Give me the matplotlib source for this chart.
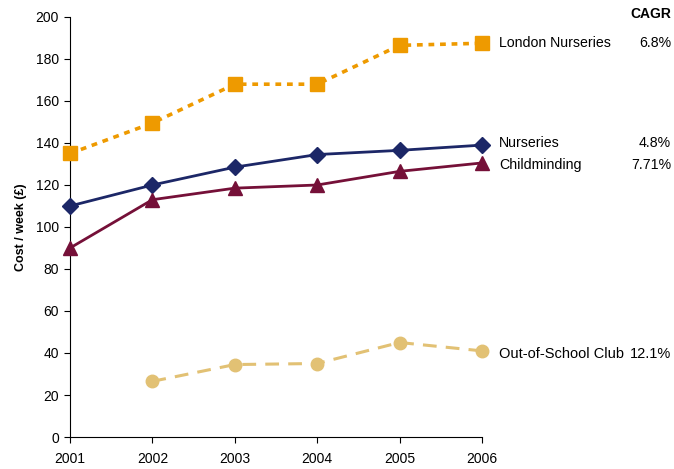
import matplotlib.pyplot as plt
import matplotlib.transforms as mtransforms

plt.rcParams['font.family'] = ['Liberation Sans', 'DejaVu Sans']

years = [2001, 2002, 2003, 2004, 2005, 2006]
london = [135, 149.5, 168, 168, 186.5, 187.5]
nurseries = [110, 120, 128.5, 134.5, 136.5, 139]
childminding = [90, 113, 118.5, 120, 126.5, 130.5]
club_years = [2002, 2003, 2004, 2005, 2006]
club = [26.5, 34.5, 35, 45, 41]

names = ['London Nurseries', 'Nurseries', 'Childminding', 'Out-of-School Club']
cagr = ['6.8%', '4.8%', '7.71%', '12.1%']
label_y = [187.5, 140, 129.5, 39.5]
label_size = [10.2, 10.2, 10.2, 10.5]

fig = plt.figure(figsize=(6.74, 4.69), dpi=100)
ax = fig.add_axes([70 / 674, 32 / 469, 412 / 674, 420 / 469])

ax.plot(years, london, color='#EE9A00', lw=2.6, ls=(0, (1.6, 1.6)),
        marker='s', ms=10, mec='#EE9A00', zorder=3, clip_on=False)
ax.plot(years, nurseries, color='#1C2767', lw=2.0,
        marker='D', ms=8, zorder=3, clip_on=False)
ax.plot(years, childminding, color='#751038', lw=2.0,
        marker='^', ms=10, zorder=3, clip_on=False)
ax.plot(club_years, club, color='#E2C174', lw=2.2, ls=(0, (4.5, 3)),
        marker='o', ms=9, zorder=3, clip_on=False)

ax.set_xlim(2001, 2006)
ax.set_ylim(0, 200)
ax.set_xticks(years)
ax.set_yticks(range(0, 201, 20))
ax.tick_params(axis='x', direction='out', length=4.5, pad=6, labelsize=10)
ax.tick_params(axis='y', direction='out', length=4, pad=4, labelsize=10)
for s in ['top', 'right']:
    ax.spines[s].set_visible(False)
ax.set_ylabel('Cost / week (£)', fontsize=9, fontweight='bold', labelpad=6)

# series labels with growth rates to the right of the plot
trans = mtransforms.blended_transform_factory(ax.transAxes, ax.transData)
for name, rate, y, fs in zip(names, cagr, label_y, label_size):
    ax.text(1.041, y, name, transform=trans, fontsize=fs, va='center', ha='left')
    ax.text(1.459, y, rate, transform=trans, fontsize=fs, va='center', ha='right')
ax.text(1.459, 201.5, 'CAGR', transform=trans, fontsize=10, fontweight='bold',
        va='center', ha='right')

fig.savefig('out.png', dpi=100)
